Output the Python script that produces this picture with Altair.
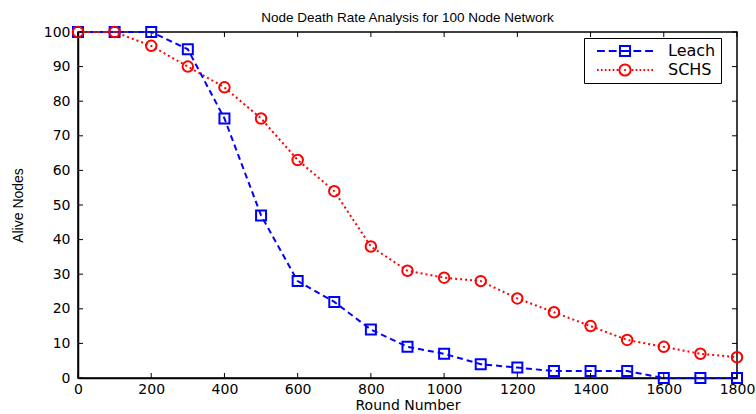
import altair as alt
import pandas as pd

rounds = [0, 100, 200, 300, 400, 500, 600, 700, 800, 900, 1000, 1100, 1200,
          1300, 1400, 1500, 1600, 1700, 1800]
leach = [100, 100, 100, 95, 75, 47, 28, 22, 14, 9, 7, 4, 3, 2, 2, 2, 0, 0, 0]
schs = [100, 100, 96, 90, 84, 75, 63, 54, 38, 31, 29, 28, 23, 19, 15, 11, 9, 7, 6]
series_names = ["Leach", "SCHS"]
x_ticks = [0, 200, 400, 600, 800, 1000, 1200, 1400, 1600, 1800]
y_ticks = [0, 10, 20, 30, 40, 50, 60, 70, 80, 90, 100]

W, H = 659, 346
FONT = "Liberation Sans"
WIDE = "DejaVu Sans"

df = pd.concat([
    pd.DataFrame({"Round": rounds, "Alive": leach, "Series": "Leach"}),
    pd.DataFrame({"Round": rounds, "Alive": schs, "Series": "SCHS"}),
])

xs = alt.Scale(domain=[0, 1800], nice=False, zero=False)
ys = alt.Scale(domain=[0, 100], nice=False)

colors = ["#0000FF", "#FF0000"]

leach_path = ("M-1,0H-0.72M-0.58,0H-0.3M-0.18,-0.18H0.18V0.18H-0.18ZM-0.18,0H0.18"
              "M0.3,0H0.58M0.72,0H1")
dots = "".join(f"M{p:.2f},0H{p+0.06:.2f}" for p in [-1, -0.86, -0.72, -0.58, -0.44, -0.3, 0.24, 0.38, 0.52, 0.66, 0.80, 0.94])
schs_path = dots + "M0.2,0A0.2,0.2 0 1,1 -0.2,0A0.2,0.2 0 1,1 0.2,0M-0.03,0H0.03"

x_axis = alt.Axis(values=x_ticks, title="Round Number", format="d",
                  grid=False, labelOverlap=False)
y_axis = alt.Axis(values=y_ticks, title="Alive Nodes", format="d",
                  grid=False, labelOverlap=False)

base = alt.Chart(df)
x_enc = alt.X("Round:Q", scale=xs, axis=x_axis)
y_enc = alt.Y("Alive:Q", scale=ys, axis=y_axis)

leach_line = base.transform_filter(alt.datum.Series == "Leach").mark_line(
    color="#0000FF", strokeWidth=2, strokeDash=[6, 4]).encode(x=x_enc, y=y_enc)
schs_line = base.transform_filter(alt.datum.Series == "SCHS").mark_line(
    color="#FF0000", strokeWidth=2, strokeDash=[2, 3]).encode(x=x_enc, y=y_enc)

leach_pts = base.transform_filter(alt.datum.Series == "Leach").mark_point(
    shape="square", size=100, filled=False, color="#0000FF", strokeWidth=2,
    opacity=1).encode(x=x_enc, y=y_enc)
schs_pts = base.transform_filter(alt.datum.Series == "SCHS").mark_point(
    shape="circle", size=110, filled=False, color="#FF0000", strokeWidth=2,
    opacity=1).encode(x=x_enc, y=y_enc)

legend_layer = base.mark_point(opacity=0, filled=False).encode(
    x=x_enc, y=y_enc,
    color=alt.Color("Series:N", scale=alt.Scale(domain=series_names, range=colors),
                    legend=alt.Legend(title=None, orient="none",
                                      legendX=506, legendY=6,
                                      symbolOpacity=1, symbolSize=3136,
                                      symbolStrokeWidth=2, labelFontSize=16,
                                      labelFont=WIDE, labelColor="black",
                                      strokeColor="black",
                                      fillColor="white", padding=5,
                                      symbolOffset=7,
                                      rowPadding=3, labelOffset=14,
                                      clipHeight=16)),
    shape=alt.Shape("Series:N", scale=alt.Scale(domain=series_names,
                                                 range=[leach_path, schs_path]),
                    legend=None),
)

yt = pd.DataFrame({"Alive": y_ticks})
xt = pd.DataFrame({"Round": x_ticks})
tick_y_left = alt.Chart(yt).mark_rule(color="black").encode(
    y=y_enc, x=alt.value(0), x2=alt.value(5))
tick_y_right = alt.Chart(yt).mark_rule(color="black").encode(
    y=y_enc, x=alt.value(W - 5), x2=alt.value(W))
tick_x_bot = alt.Chart(xt).mark_rule(color="black").encode(
    x=x_enc, y=alt.value(H - 5), y2=alt.value(H))
tick_x_top = alt.Chart(xt).mark_rule(color="black").encode(
    x=x_enc, y=alt.value(0), y2=alt.value(5))

chart = alt.layer(
    leach_line, schs_line, leach_pts, schs_pts, legend_layer,
    tick_y_left, tick_y_right, tick_x_bot, tick_x_top,
).resolve_scale(color="independent", shape="independent").properties(
    width=W, height=H,
    background="white",
    title=alt.TitleParams("Node Death Rate Analysis for 100 Node Network",
                          font=FONT, fontSize=13.5, fontWeight="normal",
                          color="black", offset=-2),
    padding={"left": 78, "top": 32, "right": 19, "bottom": 36},
    autosize=alt.AutoSizeParams(type="none"),
).configure_view(stroke="black", strokeWidth=1.5).configure_axis(
    domainColor="black", domainWidth=1.5, tickSize=0, labelFont=WIDE,
    labelFontSize=14, labelColor="black", titleFont=WIDE, titleFontSize=14,
    titleFontWeight="normal", titleColor="black", labelPadding=6,
    labelFlush=False,
).configure_axisX(labelPadding=4, titlePadding=2).configure_axisY(
    labelPadding=8, titleFont=FONT, titleFontSize=14, titlePadding=18)

chart.save("out.html", embed_options={"renderer": "svg", "actions": False})
